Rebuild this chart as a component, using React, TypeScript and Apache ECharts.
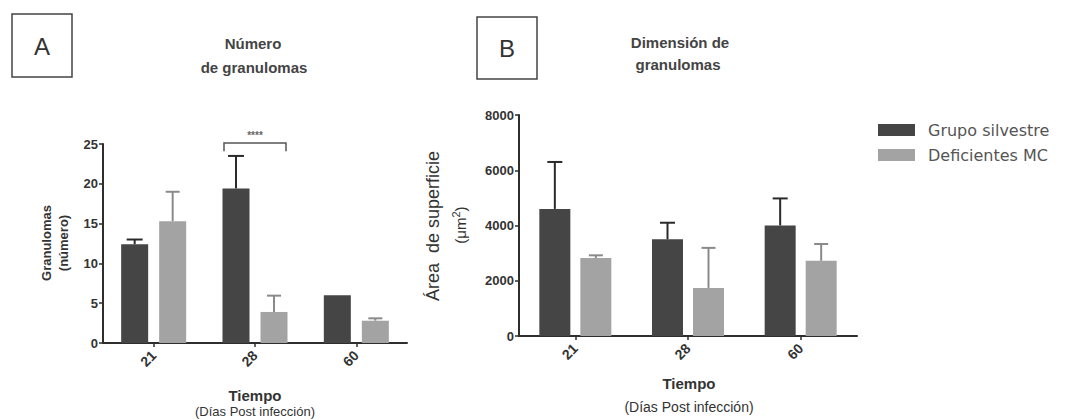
import React, { useEffect, useRef } from "react";
import * as echarts from "echarts";

const categories = ["21", "28", "60"];
const seriesNames = ["Grupo silvestre", "Deficientes MC"];

// Panel A: Número de granulomas
const aSilvestre = [12.4, 19.4, 6.0];
const aSilvestreUpper = [13.0, 23.5, 6.0];
const aDeficientes = [15.3, 3.9, 2.8];
const aDeficientesUpper = [19.0, 5.95, 3.1];
const aTicks = { min: 0, max: 25, interval: 5 };

// Panel B: Dimensión de granulomas
const bSilvestre = [4600, 3500, 4000];
const bSilvestreUpper = [6300, 4100, 4980];
const bDeficientes = [2820, 1740, 2720];
const bDeficientesUpper = [2920, 3190, 3330];
const bTicks = { min: 0, max: 8000, interval: 2000 };

const DARK = "#454545";
const LIGHT = "#a3a3a3";
const AXIS = "#2e2e2e";
const FONT = "'Liberation Sans', Arial, sans-serif";

function errorSeries(
  idx: number,
  means: number[],
  uppers: number[],
  offset: number,
  color: string,
  cap: number
) {
  return {
    type: "custom",
    xAxisIndex: idx,
    yAxisIndex: idx,
    z: 1,
    silent: true,
    data: means.map((m, i) => [i, m, uppers[i]]),
    renderItem: (_p: any, api: any) => {
      const c = api.value(0);
      const m = api.value(1);
      const u = api.value(2);
      if (u <= m) return null;
      const p0 = api.coord([c, m]);
      const p1 = api.coord([c, u]);
      const x = p0[0] + offset;
      return {
        type: "group",
        children: [
          {
            type: "line",
            shape: { x1: x, y1: p0[1], x2: x, y2: p1[1] },
            style: { stroke: color, lineWidth: 2 },
          },
          {
            type: "line",
            shape: { x1: x - cap / 2, y1: p1[1], x2: x + cap / 2, y2: p1[1] },
            style: { stroke: color, lineWidth: 2 },
          },
        ],
      };
    },
  };
}

export default function App() {
  const ref = useRef<HTMLDivElement>(null);
  useEffect(() => {
    if (!ref.current) return;
    document.body.style.margin = "0";
    const chart = echarts.init(ref.current, null, { renderer: "svg" });

    const tickLabel = { fontFamily: FONT, fontWeight: "bold", fontSize: 13, color: "#333" };
    const axisLine = { show: true, lineStyle: { color: AXIS, width: 2 } };

    const xAxis = (gridIndex: number) => ({
      type: "category",
      gridIndex,
      data: categories,
      boundaryGap: true,
      axisLine,
      axisTick: { show: true, alignWithLabel: true, length: 4, lineStyle: { color: AXIS, width: 1.5 } },
      axisLabel: { ...tickLabel, fontSize: 14, rotate: 45, margin: 10 },
      splitLine: { show: false },
    });
    const yAxis = (gridIndex: number, t: any) => ({
      type: "value",
      gridIndex,
      min: t.min,
      max: t.max,
      interval: t.interval,
      axisLine,
      axisTick: { show: true, length: 4, lineStyle: { color: AXIS, width: 1.5 } },
      axisLabel: { ...tickLabel, margin: 5, formatter: (v: number) => String(v) },
      splitLine: { show: false },
    });

    const A_BW = 27, A_GAP = 11;
    const B_BW = 31, B_GAP = 10;

    const option: any = {
      animation: false,
      backgroundColor: "#ffffff",
      textStyle: { fontFamily: FONT },
      legend: {
        show: true,
        data: seriesNames,
        orient: "vertical",
        left: 873,
        top: 117,
        itemWidth: 37,
        itemHeight: 12,
        itemGap: 9,
        icon: "rect",
        textStyle: {
          fontFamily: "'DejaVu Sans', sans-serif",
          fontSize: 16,
          color: "#555",
          padding: [0, 0, 0, 8],
        },
      },
      grid: [
        { left: 103, top: 144, width: 304, height: 199, containLabel: false },
        { left: 519, top: 115, width: 338, height: 221, containLabel: false },
      ],
      xAxis: [xAxis(0), xAxis(1)],
      yAxis: [yAxis(0, aTicks), yAxis(1, bTicks)],
      series: [
        {
          name: seriesNames[0],
          type: "bar",
          xAxisIndex: 0,
          yAxisIndex: 0,
          data: aSilvestre,
          barWidth: A_BW,
          barGap: (A_GAP / A_BW) * 100 + "%",
          itemStyle: { color: DARK },
          z: 2,
        },
        {
          name: seriesNames[1],
          type: "bar",
          xAxisIndex: 0,
          yAxisIndex: 0,
          data: aDeficientes,
          barWidth: A_BW,
          barGap: (A_GAP / A_BW) * 100 + "%",
          itemStyle: { color: LIGHT },
          z: 2,
        },
        {
          name: seriesNames[0],
          type: "bar",
          xAxisIndex: 1,
          yAxisIndex: 1,
          data: bSilvestre,
          barWidth: B_BW,
          barGap: (B_GAP / B_BW) * 100 + "%",
          itemStyle: { color: DARK },
          z: 2,
        },
        {
          name: seriesNames[1],
          type: "bar",
          xAxisIndex: 1,
          yAxisIndex: 1,
          data: bDeficientes,
          barWidth: B_BW,
          barGap: (B_GAP / B_BW) * 100 + "%",
          itemStyle: { color: LIGHT },
          z: 2,
        },
        errorSeries(0, aSilvestre, aSilvestreUpper, -(A_BW + A_GAP) / 2, "#2a2a2a", 16),
        errorSeries(0, aDeficientes, aDeficientesUpper, (A_BW + A_GAP) / 2, "#8a8a8a", 14),
        errorSeries(1, bSilvestre, bSilvestreUpper, -(B_BW + B_GAP) / 2, "#2a2a2a", 15),
        errorSeries(1, bDeficientes, bDeficientesUpper, (B_BW + B_GAP) / 2, "#8a8a8a", 14),
        {
          type: "custom",
          xAxisIndex: 0,
          yAxisIndex: 0,
          silent: true,
          data: [[1, 25, 24.1]],
          renderItem: (_p: any, api: any) => {
            const top = api.coord([api.value(0), api.value(1)]);
            const leg = api.coord([api.value(0), api.value(2)]);
            const x1 = top[0] - 31;
            const x2 = top[0] + 31;
            return {
              type: "group",
              children: [
                {
                  type: "polyline",
                  shape: { points: [[x1, leg[1]], [x1, top[1] - 1], [x2, top[1] - 1], [x2, leg[1]]] },
                  style: { stroke: "#555", lineWidth: 1.5, fill: "none" },
                },
                {
                  type: "text",
                  x: top[0],
                  y: top[1] - 9,
                  style: {
                    text: "****",
                    fontFamily: FONT,
                    fontWeight: "bold",
                    fontSize: 10,
                    fill: "#666",
                    align: "center",
                    verticalAlign: "middle",
                  },
                },
              ],
            };
          },
        },
      ],
      graphic: [
        // Panel letters
        { type: "rect", shape: { x: 12, y: 14, width: 60, height: 63 }, style: { fill: "none", stroke: "#444", lineWidth: 1.5 } },
        { type: "text", x: 42, y: 46, style: { text: "A", fontFamily: FONT, fontSize: 24, fill: "#333", align: "center", verticalAlign: "middle" } },
        { type: "rect", shape: { x: 477, y: 17, width: 60, height: 62 }, style: { fill: "none", stroke: "#444", lineWidth: 1.5 } },
        { type: "text", x: 507, y: 48, style: { text: "B", fontFamily: FONT, fontSize: 24, fill: "#333", align: "center", verticalAlign: "middle" } },
        // Titles
        { type: "text", x: 253, y: 43, style: { text: "Número", fontFamily: FONT, fontWeight: "bold", fontSize: 15, fill: "#444", align: "center", verticalAlign: "middle" } },
        { type: "text", x: 254, y: 67, style: { text: "de granulomas", fontFamily: FONT, fontWeight: "bold", fontSize: 15, fill: "#444", align: "center", verticalAlign: "middle" } },
        { type: "text", x: 680, y: 42, style: { text: "Dimensión de", fontFamily: FONT, fontWeight: "bold", fontSize: 15, fill: "#444", align: "center", verticalAlign: "middle" } },
        { type: "text", x: 678, y: 64, style: { text: "granulomas", fontFamily: FONT, fontWeight: "bold", fontSize: 15, fill: "#444", align: "center", verticalAlign: "middle" } },
        // Y axis names
        { type: "text", x: 46, y: 243, rotation: Math.PI / 2, style: { text: "Granulomas", fontFamily: FONT, fontWeight: "bold", fontSize: 13, fill: "#333", align: "center", verticalAlign: "middle" } },
        { type: "text", x: 63, y: 243, rotation: Math.PI / 2, style: { text: "(número)", fontFamily: FONT, fontWeight: "bold", fontSize: 13, fill: "#333", align: "center", verticalAlign: "middle" } },
        { type: "text", x: 433, y: 226, rotation: Math.PI / 2, style: { text: "Área  de superficie", fontFamily: FONT, fontSize: 18, fill: "#333", align: "center", verticalAlign: "middle" } },
        {
          type: "text", x: 460, y: 225, rotation: Math.PI / 2,
          style: {
            text: "(μm{s|2})",
            rich: { s: { fontSize: 11, verticalAlign: "top", padding: [0, 0, 8, 0] } },
            fontFamily: FONT, fontSize: 15, fill: "#333", align: "center", verticalAlign: "middle",
          },
        },
        // X axis names
        { type: "text", x: 255, y: 395, style: { text: "Tiempo", fontFamily: FONT, fontWeight: "bold", fontSize: 15, fill: "#333", align: "center", verticalAlign: "middle" } },
        { type: "text", x: 255, y: 411, style: { text: "(Días Post infección)", fontFamily: FONT, fontSize: 13, fill: "#333", align: "center", verticalAlign: "middle" } },
        { type: "text", x: 689, y: 383, style: { text: "Tiempo", fontFamily: FONT, fontWeight: "bold", fontSize: 15, fill: "#333", align: "center", verticalAlign: "middle" } },
        { type: "text", x: 689, y: 407, style: { text: "(Días Post infección)", fontFamily: FONT, fontSize: 14, fill: "#333", align: "center", verticalAlign: "middle" } },
      ],
    };

    chart.setOption(option);
    return () => chart.dispose();
  }, []);

  return <div ref={ref} style={{ width: 1084, height: 419 }} />;
}
